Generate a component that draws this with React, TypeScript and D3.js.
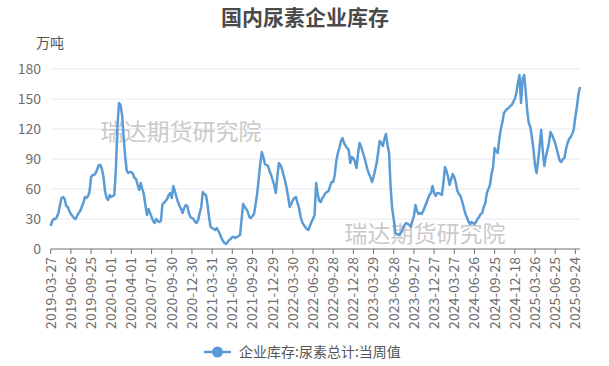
import React from "react";
import * as d3 from "d3";

const title = "国内尿素企业库存";
const unitLabel = "万吨";
const seriesName = "企业库存:尿素总计:当周值";
const watermark = "瑞达期货研究院";

const yTicks = [0, 30, 60, 90, 120, 150, 180];

const tickLabels = [
  "2019-03-27", "2019-06-26", "2019-09-25", "2020-01-01", "2020-04-01", "2020-07-01",
  "2020-09-30", "2020-12-30", "2021-03-31", "2021-06-30", "2021-09-29", "2021-12-29",
  "2022-03-30", "2022-06-29", "2022-09-28", "2022-12-28", "2023-03-29", "2023-06-28",
  "2023-09-27", "2023-12-27", "2024-03-27", "2024-06-26", "2024-09-25", "2024-12-18",
  "2025-03-26", "2025-06-25", "2025-09-24",
];
const tickInterval = 13;

const values = [
  23, 28, 30, 30, 32, 36, 44, 51, 52, 50, 43, 42, 38,
  35, 33, 31, 30, 33, 36, 38, 42, 46, 52, 51, 53, 57,
  72, 74, 74, 76, 80, 84, 84, 80, 72, 58, 51, 49, 54,
  52, 53, 54, 80, 122, 146, 144, 134, 112, 92, 78, 76, 77,
  77, 75, 71, 70, 64, 59, 66, 60, 55, 44, 34, 40, 36,
  32, 28, 26, 30, 28, 27, 28, 45, 46, 48, 50, 54, 56,
  51, 63, 58, 52, 47, 43, 40, 36, 41, 44, 43, 36, 32,
  31, 30, 27, 26, 29, 36, 42, 57, 55, 54, 45, 32, 22,
  21, 20, 19, 21, 18, 15, 11, 8, 6, 5, 7, 9, 10,
  12, 12, 11, 12, 13, 14, 30, 45, 42, 40, 37, 32, 31,
  33, 35, 45, 55, 70, 85, 97, 92, 85, 84, 83, 78, 74,
  69, 64, 56, 72, 86, 84, 80, 74, 68, 61, 52, 42, 45,
  49, 51, 52, 46, 41, 32, 27, 24, 22, 20, 19, 23, 27,
  30, 34, 66, 55, 48, 47, 51, 53, 56, 57, 58, 63, 67,
  67, 74, 88, 96, 101, 108, 111, 106, 103, 101, 99, 86, 92,
  91, 87, 81, 95, 106, 102, 97, 92, 86, 80, 75, 72, 67,
  72, 79, 86, 97, 108, 106, 103, 110, 115, 104, 96, 62, 40,
  30, 16, 15, 14, 15, 17, 21, 24, 26, 25, 24, 22, 28,
  33, 44, 38, 35, 36, 35, 38, 42, 46, 50, 54, 56, 63,
  56, 53, 56, 56, 55, 54, 66, 82, 78, 72, 64, 70, 75,
  72, 66, 58, 55, 53, 48, 42, 36, 32, 28, 25, 27, 26,
  25, 27, 30, 32, 35, 36, 42, 46, 56, 60, 64, 75, 82,
  101, 98, 96, 110, 120, 127, 136, 138, 140, 141, 143, 144, 147,
  150, 156, 166, 174, 146, 170, 174, 158, 138, 126, 122, 112, 100,
  84, 76, 88, 103, 119, 98, 83, 92, 99, 106, 117, 114, 110,
  106, 100, 94, 88, 87, 90, 91, 100, 106, 110, 112, 115, 120,
  132, 142, 155, 162,
];

const W = 609;
const H = 366;
const lineColor = "#5b9bd5";
const font = "'Noto Sans CJK SC', 'Noto Sans', sans-serif";

export default function App() {
  const x = d3.scaleLinear().domain([0, values.length - 1]).range([50.7, 580]);
  const y = d3.scaleLinear().domain([0, 180]).range([249, 69]);
  const line = d3
    .line<number>()
    .x((_, i) => x(i))
    .y((d) => y(d));
  const path = line(values) || "";

  return (
    <svg
      width={W}
      height={H}
      style={{ position: "absolute", left: 0, top: 0, background: "#fff" }}
      fontFamily={font}
    >
      <text x={305} y={18} dy="0.35em" textAnchor="middle" fontSize={21} fontWeight="bold" fill="#4a4a4a">
        {title}
      </text>
      <text x={50} y={43} dy="0.35em" textAnchor="middle" fontSize={14} fill="#555">
        {unitLabel}
      </text>
      {yTicks.map((t) => (
        <g key={t}>
          {t > 0 && (
            <line x1={50.7} x2={580} y1={y(t)} y2={y(t)} stroke="#e3e8f3" strokeWidth={1} />
          )}
          <text x={41} y={y(t)} dy="0.35em" textAnchor="end" fontSize={14} fill="#6e6e6e">
            {t}
          </text>
        </g>
      ))}
      <text
        x={181}
        y={130}
        textAnchor="middle"
        dominantBaseline="central"
        fontSize={23}
        fill="#cacaca"
      >
        {watermark}
      </text>
      <text
        x={425}
        y={232}
        textAnchor="middle"
        dominantBaseline="central"
        fontSize={23}
        fill="#cacaca"
      >
        {watermark}
      </text>
      <line x1={50.7} x2={580} y1={y(0)} y2={y(0)} stroke="#6e7079" strokeWidth={1} />
      {tickLabels.map((lab, k) => {
        const xi = x(k * tickInterval);
        return (
          <g key={lab}>
            <line x1={xi} x2={xi} y1={y(0)} y2={y(0) + 5} stroke="#6e7079" strokeWidth={1} />
            <text
              transform={`translate(${xi},${y(0) + 8}) rotate(-90)`}
              textAnchor="end"
              dy="0.35em"
              fontSize={14}
              fill="#6e6e6e"
            >
              {lab}
            </text>
          </g>
        );
      })}
      <path d={path} fill="none" stroke={lineColor} strokeWidth={2.5} strokeLinejoin="round" />
      <g>
        <line x1={204} x2={231} y1={352} y2={352} stroke={lineColor} strokeWidth={2.5} />
        <circle cx={217.5} cy={352} r={5.5} fill={lineColor} />
        <text x={239} y={352} dy="0.35em" fontSize={14} fill="#555">
          {seriesName}
        </text>
      </g>
    </svg>
  );
}
